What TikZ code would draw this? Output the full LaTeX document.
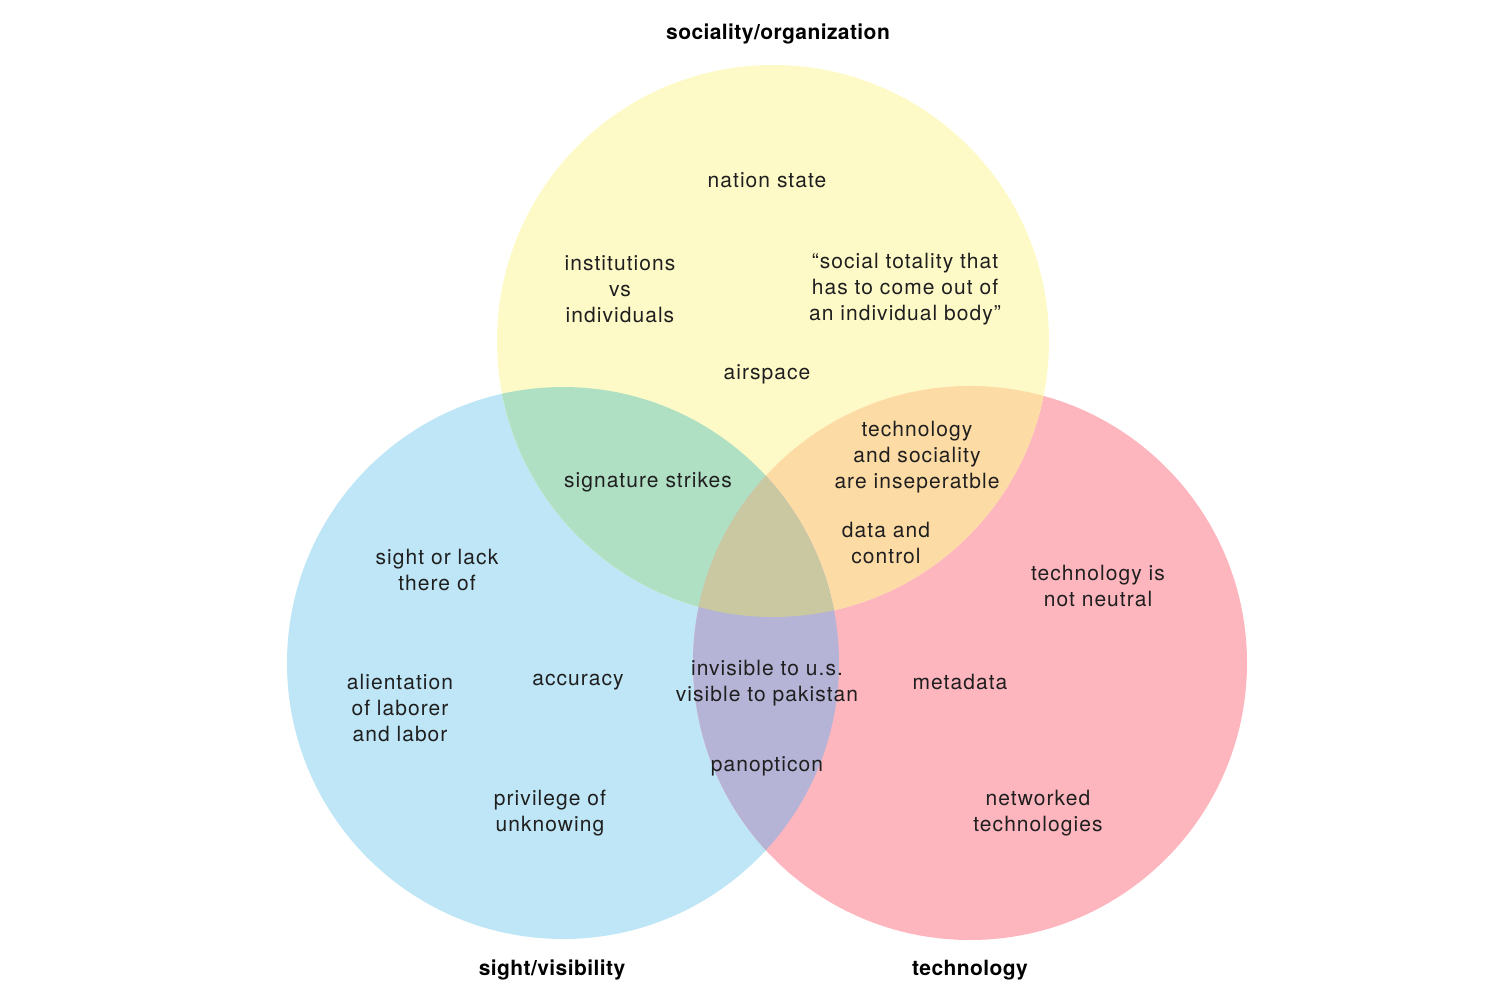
\documentclass[tikz,border=0pt]{standalone}
\usepackage{fontspec}
\setmainfont{TeX Gyre Heros}[LetterSpace=5,BoldFeatures={LetterSpace=2}]
\usepackage{tikz}
\definecolor{soccol}{RGB}{254,250,200}
\definecolor{sightcol}{RGB}{190,230,246}
\definecolor{techcol}{RGB}{254,182,190}
\definecolor{socsight}{RGB}{176,224,196}
\definecolor{soctech}{RGB}{253,219,165}
\definecolor{sighttech}{RGB}{181,180,215}
\definecolor{allcol}{RGB}{201,200,160}
\tikzset{
  lab/.style={font=\fontsize{21}{26}\selectfont,text=black!88,align=center,inner sep=0pt,yshift=-2pt},
  capt/.style={font=\fontsize{21}{26}\selectfont\bfseries,text=black,inner sep=0pt,yshift=-1pt},
}

\begin{document}
\begin{tikzpicture}[x=1pt,y=1pt]
  \useasboundingbox (0,0) rectangle (1500,-1000);
  \coordinate (soc) at (773,-341);
  \coordinate (sight) at (563,-663);
  \coordinate (tech) at (970,-663);
  % circles
  \fill[sightcol] (sight) circle (276pt);
  \fill[techcol] (tech) circle (277pt);
  \fill[soccol] (soc) circle (276pt);
  % overlaps
  \begin{scope}
    \clip (soc) circle (276pt);
    \fill[socsight] (sight) circle (276pt);
    \fill[soctech] (tech) circle (277pt);
  \end{scope}
  \begin{scope}
    \clip (sight) circle (276pt);
    \fill[sighttech] (tech) circle (277pt);
  \end{scope}
  \begin{scope}
    \clip (soc) circle (276pt);
    \clip (sight) circle (276pt);
    \fill[allcol] (tech) circle (277pt);
  \end{scope}
  % headings
  \node[capt] (hsoc) at (778,-33) {sociality/organization};
  \node[capt] (hsight) at (552,-969) {sight/visibility};
  \node[capt] (htech) at (970,-969) {technology};
  % texts
  \node[lab] (nation) at (767,-178) {nation state};
  \node[lab] (instit) at (620,-287) {institutions\\vs\\individuals};
  \node[lab] (totality) at (905,-287) {“social totality that\\has to come out of\\an individual body”};
  \node[lab] (airspace) at (767,-372) {airspace};
  \node[lab] (insep) at (917,-455) {technology\\and sociality\\are inseperatble};
  \node[lab] (strikes) at (648,-480) {signature strikes};
  \node[lab] (datactl) at (886,-541) {data and\\control};
  \node[lab] (lack) at (437,-568) {sight or lack\\there of};
  \node[lab] (neutral) at (1098,-584) {technology is\\not neutral};
  \node[lab] (alien) at (400,-706) {alientation\\of laborer\\and labor};
  \node[lab] (accuracy) at (578,-680) {accuracy};
  \node[lab] (invis) at (767,-681) {invisible to u.s.\\visible to pakistan};
  \node[lab] (metadata) at (960,-680) {metadata};
  \node[lab] (panopt) at (767,-764) {panopticon};
  \node[lab] (privil) at (550,-811) {privilege of\\unknowing};
  \node[lab] (network) at (1038,-811) {networked\\technologies};
\end{tikzpicture}
\end{document}
